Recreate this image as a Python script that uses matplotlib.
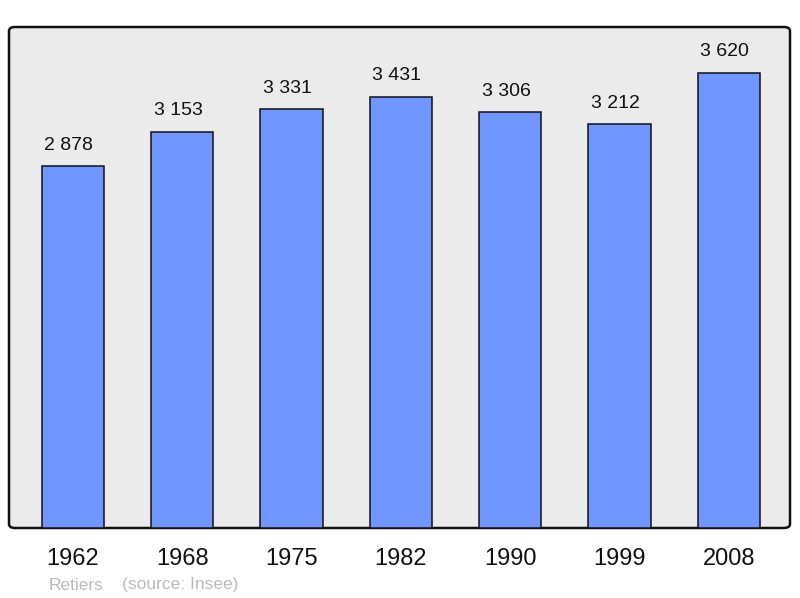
import matplotlib.pyplot as plt
from matplotlib.patches import FancyBboxPatch

years = ['1962', '1968', '1975', '1982', '1990', '1999', '2008']
population = [2878, 3153, 3331, 3431, 3306, 3212, 3620]

plt.rcParams['font.family'] = ['Liberation Sans', 'DejaVu Sans']

def fmt(v):
    return '{:,}'.format(v).replace(',', ' ')

fig = plt.figure(figsize=(8, 5.98), dpi=100)
ax = fig.add_axes([9 / 800, 70 / 598, 781 / 800, 501 / 598])
ax.set_facecolor('none')
for s in ax.spines.values():
    s.set_visible(False)

frame = FancyBboxPatch((0, 0), 1, 1, boxstyle='round,pad=0,rounding_size=0.008',
                       transform=ax.transAxes, facecolor='#ebebeb',
                       edgecolor='#111111', linewidth=1.8, clip_on=False, zorder=0)
ax.add_patch(frame)

x = range(len(years))
bars = ax.bar(x, population, width=0.57, color='#7097ff', edgecolor='#111111',
              linewidth=1.1, zorder=2)
for xi, v in zip(x, population):
    ax.annotate(fmt(v), (xi, v), xytext=(-3, 9), textcoords='offset points',
                ha='center', va='bottom', fontsize=14, color='#111111')

ax.set_xlim(-0.585, 6.558)
ax.set_ylim(0, 3985)
ax.set_yticks([])
ax.set_xticks(list(x))
ax.set_xticklabels(years, fontsize=17, color='#111111')
ax.tick_params(axis='x', length=0, pad=14.5)

fig.text(49 / 800, 1 - 585 / 598, 'Retiers', fontsize=12.5, color='#bbbbbb', va='center')
fig.text(122 / 800, 1 - 585 / 598, '(source: Insee)', fontsize=12.5, color='#bbbbbb', va='center')

fig.savefig('out.png', dpi=100)
